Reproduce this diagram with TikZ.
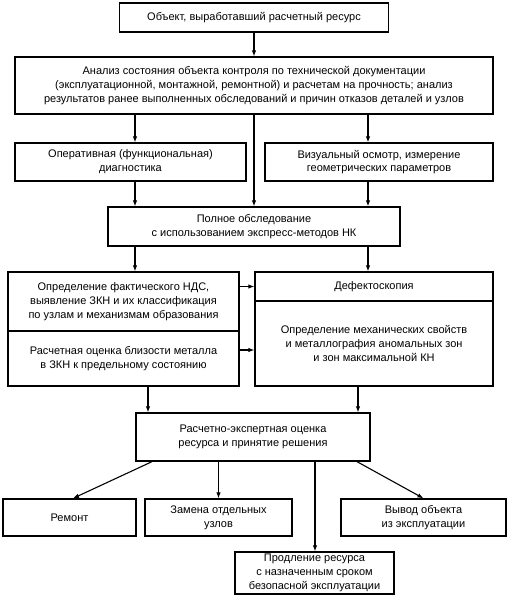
\documentclass[tikz,border=0pt]{standalone}
\usepackage{fontspec}
\setmainfont{Liberation Sans}
\usetikzlibrary{arrows.meta}
\begin{document}
\begin{tikzpicture}[x=1bp,y=-1bp,
  box/.style={draw, line width=1.3bp, inner sep=0pt, align=center,
    font=\fontsize{11bp}{13.8bp}\selectfont},
  arr/.style={line width=1.1bp, -{Latex[length=6bp,width=4.5bp]}},
  ln/.style={line width=1.1bp}]
\useasboundingbox (0,0) rectangle (509,596);
% nodes
\node[box, minimum width=269bp, minimum height=29bp] (top) at (254,17.5) {Объект, выработавший расчетный ресурс};
\node[box, minimum width=478bp, minimum height=57bp] (anal) at (254,85.5) {Анализ состояния объекта контроля по технической документации\\(эксплуатационной, монтажной, ремонтной) и расчетам на прочность; анализ\\результатов ранее выполненных обследований и причин отказов деталей и узлов};
\node[box, minimum width=231bp, minimum height=38bp] (op) at (130.5,162) {Оперативная (функциональная)\\диагностика};
\node[box, minimum width=228bp, minimum height=38bp] (vis) at (379,162) {Визуальный осмотр, измерение\\геометрических параметров};
\node[box, minimum width=292bp, minimum height=39bp] (full) at (254,226.5) {Полное обследование\\с использованием экспресс-методов НК};
\node[box, minimum width=231bp, minimum height=59bp] (ndc) at (123.5,301.5) {Определение фактического НДС,\\выявление ЗКН и их классификация\\по узлам и механизмам образования};
\node[box, minimum width=231bp, minimum height=55bp] (calc) at (123.5,358.5) {Расчетная оценка близости металла\\в ЗКН к предельному состоянию};
\node[box, minimum width=238bp, minimum height=29bp] (defs) at (374,286.5) {Дефектоскопия};
\node[box, minimum width=238bp, minimum height=85bp] (mech) at (374,343.5) {Определение механических свойств\\и металлография аномальных зон\\и зон максимальной КН};
\node[box, minimum width=234bp, minimum height=48bp] (rasch) at (253,437) {Расчетно-экспертная оценка\\ресурса и принятие решения};
\node[box, minimum width=133bp, minimum height=37bp] (rem) at (69.5,517.5) {Ремонт};
\node[box, minimum width=147bp, minimum height=37bp] (zam) at (218.5,517.5) {Замена отдельных\\узлов};
\node[box, minimum width=165bp, minimum height=37bp] (vyv) at (423.5,517.5) {Вывод объекта\\из эксплуатации};
\node[box, minimum width=159bp, minimum height=42bp] (prod) at (314.5,573) {Продление ресурса\\с назначенным сроком\\безопасной эксплуатации};
% helper coordinates
\coordinate (xa) at (135,0);
\coordinate (xb) at (368,0);
\coordinate (xc) at (148,0);
\coordinate (xd) at (358,0);
\coordinate (xe) at (218.5,0);
\coordinate (xf) at (315,0);
\coordinate (ya) at (0,350);
\coordinate (ra) at (152,0);
\coordinate (rb) at (357,0);
\coordinate (ta) at (73,0);
% connectors
\draw[arr] (top.south) -- (top.south |- anal.north);
\draw[arr] (anal.south -| xa) -- (op.north -| xa);
\draw[arr] (anal.south -| xb) -- (vis.north -| xb);
\draw[arr] (anal.south) -- (full.north);
\draw[arr] (op.south -| xa) -- (full.north -| xa);
\draw[arr] (vis.south -| xb) -- (full.north -| xb);
\draw[arr] (full.south -| xa) -- (ndc.north -| xa);
\draw[arr] (full.south -| xb) -- (defs.north -| xb);
\draw[arr] (ndc.east |- defs.west) -- (defs.west);
\draw[arr] (calc.east |- ya) -- (mech.west |- ya);
\draw[arr] (calc.south -| xc) -- (rasch.north -| xc);
\draw[arr] (mech.south -| xd) -- (rasch.north -| xd);
\draw[arr] (rasch.south -| ra) -- (rem.north -| ta);
\draw[arr] (rasch.south -| xe) -- (zam.north);
\draw[arr] (rasch.south -| xf) -- (prod.north -| xf);
\draw[arr] (rasch.south -| rb) -- (vyv.north);
\end{tikzpicture}
\end{document}
